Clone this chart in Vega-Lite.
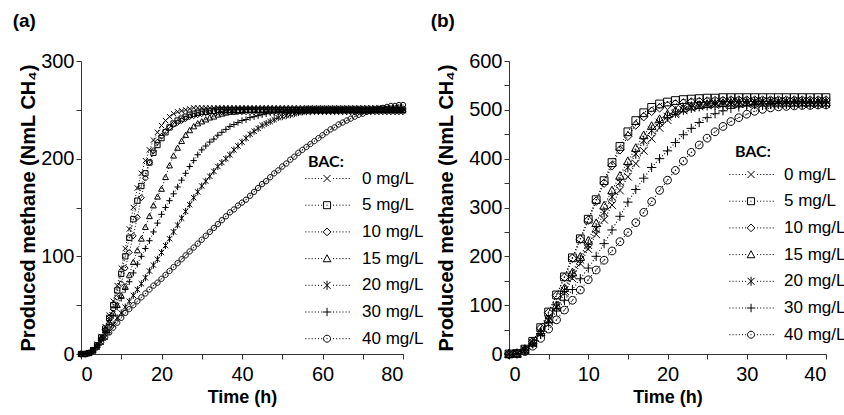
{
"$schema": "https://vega.github.io/schema/vega-lite/v6.json",
"padding": {"left": 12, "top": 12, "right": 0, "bottom": 2},
"bounds": "flush",
"config": {
  "view": {"stroke": null},
  "font": "Liberation Sans",
  "axis": {"domainColor": "#333", "tickColor": "#333", "labelColor": "#000", "titleColor": "#000", "labelFont": "Liberation Sans", "titleFont": "Liberation Sans", "labelFontSize": 20, "titleFontSize": 18, "titleFontWeight": "bold", "grid": false, "tickSize": 5},
  "title": {"anchor": "start", "frame": "bounds", "fontSize": 19, "fontWeight": "bold", "font": "Liberation Sans", "offset": 20, "dx": -6}
},
"datasets": {
"a": [
{"t":0,"0":0,"5":0,"10":0,"15":0,"20":0,"30":0,"40":0},
{"t":1,"0":0,"5":0,"10":0,"15":0,"20":0,"30":0,"40":0},
{"t":2,"0":1,"5":1,"10":1,"15":1,"20":1,"30":1,"40":1},
{"t":3,"0":4,"5":4,"10":4,"15":4,"20":3,"30":4,"40":3},
{"t":4,"0":10,"5":9,"10":9,"15":9,"20":7,"30":9,"40":7},
{"t":5,"0":18,"5":17,"10":16,"15":16,"20":12,"30":15,"40":12},
{"t":6,"0":28,"5":26,"10":25,"15":24,"20":17,"30":22,"40":17},
{"t":7,"0":40,"5":37,"10":35,"15":33,"20":23,"30":30,"40":22},
{"t":8,"0":54,"5":50,"10":46,"15":42,"20":30,"30":39,"40":27},
{"t":9,"0":70,"5":65,"10":58,"15":50,"20":37,"30":48,"40":32},
{"t":10,"0":88,"5":82,"10":72,"15":60,"20":42,"30":57,"40":37},
{"t":11,"0":108,"5":100,"10":88,"15":69,"20":48,"30":66,"40":42},
{"t":12,"0":128,"5":119,"10":104,"15":81,"20":54,"30":74,"40":46},
{"t":13,"0":150,"5":138,"10":121,"15":94,"20":60,"30":83,"40":50},
{"t":14,"0":170,"5":157,"10":140,"15":106,"20":66,"30":92,"40":54},
{"t":15,"0":185,"5":172,"10":160,"15":118,"20":72,"30":100,"40":58},
{"t":16,"0":198,"5":185,"10":180,"15":130,"20":78,"30":108,"40":62},
{"t":17,"0":209,"5":196,"10":196,"15":141,"20":85,"30":116,"40":66},
{"t":18,"0":219,"5":206,"10":208,"15":152,"20":91,"30":125,"40":70},
{"t":19,"0":227,"5":214,"10":217,"15":161,"20":97,"30":134,"40":73},
{"t":20,"0":234,"5":221,"10":223,"15":169,"20":104,"30":143,"40":77},
{"t":21,"0":239,"5":227,"10":228,"15":181,"20":111,"30":150,"40":81},
{"t":22,"0":243,"5":232,"10":232,"15":193,"20":118,"30":157,"40":85},
{"t":23,"0":246,"5":236,"10":235,"15":203,"20":125,"30":164,"40":89},
{"t":24,"0":248,"5":239,"10":237,"15":211,"20":132,"30":171,"40":93},
{"t":25,"0":249,"5":241,"10":239,"15":218,"20":139,"30":178,"40":97},
{"t":26,"0":250,"5":243,"10":241,"15":224,"20":146,"30":185,"40":101},
{"t":27,"0":251,"5":245,"10":243,"15":229,"20":153,"30":192,"40":105},
{"t":28,"0":252,"5":246,"10":244,"15":233,"20":160,"30":198,"40":109},
{"t":29,"0":252,"5":247,"10":245,"15":236,"20":166,"30":204,"40":113},
{"t":30,"0":252,"5":248,"10":246,"15":238,"20":172,"30":209,"40":117},
{"t":31,"0":252,"5":248,"10":247,"15":240,"20":177,"30":213,"40":121},
{"t":32,"0":252,"5":249,"10":247,"15":242,"20":182,"30":217,"40":125},
{"t":33,"0":252,"5":249,"10":248,"15":243,"20":187,"30":220,"40":129},
{"t":34,"0":252,"5":250,"10":248,"15":245,"20":192,"30":224,"40":133},
{"t":35,"0":252,"5":250,"10":248,"15":246,"20":196,"30":227,"40":137},
{"t":36,"0":252,"5":250,"10":248,"15":247,"20":200,"30":230,"40":141},
{"t":37,"0":252,"5":250,"10":248,"15":248,"20":204,"30":233,"40":145},
{"t":38,"0":252,"5":250,"10":248,"15":248,"20":209,"30":235,"40":148},
{"t":39,"0":252,"5":250,"10":248,"15":249,"20":213,"30":237,"40":152},
{"t":40,"0":252,"5":250,"10":248,"15":249,"20":217,"30":239,"40":155},
{"t":41,"0":252,"5":250,"10":248,"15":250,"20":221,"30":240,"40":158},
{"t":42,"0":252,"5":250,"10":248,"15":250,"20":225,"30":242,"40":162},
{"t":43,"0":252,"5":250,"10":248,"15":250,"20":228,"30":243,"40":166},
{"t":44,"0":252,"5":250,"10":248,"15":250,"20":231,"30":244,"40":170},
{"t":45,"0":252,"5":250,"10":248,"15":250,"20":234,"30":245,"40":174},
{"t":46,"0":252,"5":250,"10":248,"15":250,"20":236,"30":246,"40":177},
{"t":47,"0":252,"5":250,"10":248,"15":250,"20":238,"30":247,"40":181},
{"t":48,"0":252,"5":250,"10":248,"15":250,"20":240,"30":247,"40":185},
{"t":49,"0":252,"5":250,"10":248,"15":250,"20":242,"30":248,"40":188},
{"t":50,"0":252,"5":250,"10":248,"15":250,"20":243,"30":248,"40":192},
{"t":51,"0":252,"5":250,"10":248,"15":250,"20":244,"30":249,"40":195},
{"t":52,"0":252,"5":250,"10":248,"15":250,"20":245,"30":249,"40":199},
{"t":53,"0":252,"5":250,"10":248,"15":250,"20":246,"30":250,"40":202},
{"t":54,"0":252,"5":250,"10":248,"15":250,"20":247,"30":250,"40":206},
{"t":55,"0":252,"5":250,"10":248,"15":250,"20":248,"30":250,"40":209},
{"t":56,"0":252,"5":250,"10":248,"15":250,"20":248,"30":251,"40":212},
{"t":57,"0":252,"5":250,"10":248,"15":250,"20":249,"30":251,"40":215},
{"t":58,"0":252,"5":250,"10":248,"15":250,"20":249,"30":251,"40":218},
{"t":59,"0":252,"5":250,"10":248,"15":250,"20":249,"30":251,"40":221},
{"t":60,"0":252,"5":250,"10":248,"15":250,"20":249,"30":251,"40":224},
{"t":61,"0":252,"5":250,"10":248,"15":250,"20":249,"30":251,"40":227},
{"t":62,"0":252,"5":250,"10":248,"15":250,"20":249,"30":251,"40":230},
{"t":63,"0":252,"5":250,"10":248,"15":250,"20":249,"30":251,"40":232},
{"t":64,"0":252,"5":250,"10":248,"15":250,"20":249,"30":251,"40":235},
{"t":65,"0":252,"5":250,"10":248,"15":250,"20":249,"30":251,"40":237},
{"t":66,"0":252,"5":250,"10":248,"15":250,"20":249,"30":251,"40":239},
{"t":67,"0":252,"5":250,"10":248,"15":250,"20":249,"30":251,"40":241},
{"t":68,"0":252,"5":250,"10":248,"15":250,"20":249,"30":251,"40":243},
{"t":69,"0":252,"5":250,"10":248,"15":250,"20":249,"30":251,"40":245},
{"t":70,"0":252,"5":250,"10":248,"15":250,"20":249,"30":251,"40":246},
{"t":71,"0":252,"5":250,"10":248,"15":250,"20":249,"30":251,"40":248},
{"t":72,"0":252,"5":250,"10":248,"15":250,"20":249,"30":251,"40":249},
{"t":73,"0":252,"5":250,"10":248,"15":250,"20":249,"30":251,"40":250},
{"t":74,"0":252,"5":250,"10":248,"15":250,"20":249,"30":251,"40":251},
{"t":75,"0":252,"5":250,"10":248,"15":250,"20":249,"30":251,"40":252},
{"t":76,"0":252,"5":250,"10":248,"15":250,"20":249,"30":251,"40":253},
{"t":77,"0":252,"5":250,"10":248,"15":250,"20":249,"30":251,"40":254},
{"t":78,"0":252,"5":250,"10":248,"15":250,"20":249,"30":251,"40":254},
{"t":79,"0":252,"5":250,"10":248,"15":250,"20":249,"30":251,"40":255},
{"t":80,"0":252,"5":250,"10":248,"15":250,"20":249,"30":251,"40":255}
],
"b": [
{"t":0,"0":0,"5":0,"10":0,"15":0,"20":0,"30":0,"40":0},
{"t":1,"0":1,"5":1,"10":1,"15":1,"20":1,"30":1,"40":1},
{"t":2,"0":8,"5":10,"10":10,"15":9,"20":9,"30":8,"40":5},
{"t":3,"0":22,"5":26,"10":26,"15":23,"20":22,"30":21,"40":16},
{"t":4,"0":43,"5":54,"10":53,"15":45,"20":44,"30":42,"40":32},
{"t":5,"0":68,"5":86,"10":85,"15":72,"20":70,"30":64,"40":51},
{"t":6,"0":95,"5":121,"10":120,"15":100,"20":98,"30":88,"40":70},
{"t":7,"0":125,"5":158,"10":157,"15":135,"20":130,"30":110,"40":90},
{"t":8,"0":155,"5":197,"10":196,"15":167,"20":162,"30":132,"40":110},
{"t":9,"0":185,"5":236,"10":235,"15":199,"20":193,"30":154,"40":131},
{"t":10,"0":215,"5":276,"10":274,"15":232,"20":223,"30":176,"40":152},
{"t":11,"0":245,"5":316,"10":313,"15":268,"20":256,"30":200,"40":172},
{"t":12,"0":275,"5":355,"10":350,"15":304,"20":290,"30":226,"40":192},
{"t":13,"0":305,"5":392,"10":386,"15":335,"20":322,"30":254,"40":211},
{"t":14,"0":335,"5":425,"10":418,"15":365,"20":352,"30":282,"40":230},
{"t":15,"0":363,"5":455,"10":446,"15":395,"20":382,"30":311,"40":249},
{"t":16,"0":390,"5":478,"10":469,"15":422,"20":410,"30":337,"40":269},
{"t":17,"0":416,"5":494,"10":486,"15":448,"20":437,"30":360,"40":290},
{"t":18,"0":441,"5":505,"10":497,"15":467,"20":458,"30":382,"40":312},
{"t":19,"0":463,"5":512,"10":504,"15":481,"20":474,"30":400,"40":335},
{"t":20,"0":479,"5":516,"10":509,"15":491,"20":486,"30":416,"40":356},
{"t":21,"0":491,"5":519,"10":512,"15":498,"20":494,"30":433,"40":376},
{"t":22,"0":499,"5":521,"10":514,"15":503,"20":500,"30":449,"40":395},
{"t":23,"0":505,"5":522,"10":516,"15":507,"20":504,"30":462,"40":413},
{"t":24,"0":509,"5":523,"10":517,"15":510,"20":507,"30":474,"40":428},
{"t":25,"0":512,"5":524,"10":518,"15":512,"20":509,"30":484,"40":442},
{"t":26,"0":514,"5":524,"10":519,"15":513,"20":510,"30":492,"40":455},
{"t":27,"0":515,"5":525,"10":519,"15":514,"20":511,"30":498,"40":466},
{"t":28,"0":516,"5":525,"10":520,"15":515,"20":512,"30":503,"40":476},
{"t":29,"0":517,"5":525,"10":520,"15":515,"20":512,"30":506,"40":484},
{"t":30,"0":517,"5":525,"10":520,"15":515,"20":512,"30":509,"40":491},
{"t":31,"0":517,"5":525,"10":520,"15":515,"20":512,"30":511,"40":497},
{"t":32,"0":518,"5":525,"10":520,"15":515,"20":512,"30":512,"40":501},
{"t":33,"0":518,"5":525,"10":520,"15":515,"20":512,"30":513,"40":504},
{"t":34,"0":518,"5":525,"10":520,"15":515,"20":512,"30":514,"40":506},
{"t":35,"0":518,"5":525,"10":520,"15":515,"20":512,"30":514,"40":507},
{"t":36,"0":518,"5":525,"10":520,"15":515,"20":512,"30":514,"40":508},
{"t":37,"0":518,"5":525,"10":520,"15":515,"20":512,"30":514,"40":509},
{"t":38,"0":518,"5":525,"10":520,"15":515,"20":512,"30":514,"40":509},
{"t":39,"0":518,"5":525,"10":520,"15":515,"20":512,"30":514,"40":510},
{"t":40,"0":518,"5":525,"10":520,"15":515,"20":512,"30":514,"40":510}
]
},
"spacing": 106,
"resolve": {"scale": {"shape": "independent", "opacity": "independent", "x": "independent", "y": "independent"}, "legend": {"opacity": "independent"}},
"hconcat": [
{
  "title": {"text": "(a)"},
  "width": 322, "height": 293,
  "data": {"name": "a"},
  "transform": [{"fold": ["0","5","10","15","20","30","40"], "as": ["BAC","v"]}],
  "encoding": {
    "x": {"field": "t", "type": "quantitative", "scale": {"domain": [0,80], "nice": false},
          "axis": {"title": "Time (h)", "values": [0,10,20,30,40,50,60,70,80], "labelExpr": "datum.value % 20 == 0 ? datum.label : ''", "labelPadding": 5, "titlePadding": 4}},
    "y": {"field": "v", "type": "quantitative", "scale": {"domain": [0,300], "nice": false},
          "axis": {"title": "Produced methane (NmL CH₄)", "titleFontSize": 20, "values": [0,50,100,150,200,250,300], "labelExpr": "datum.value % 100 == 0 ? datum.label : ''", "labelPadding": 2, "titlePadding": 2}}
  },
  "layer": [
    {"mark": {"type": "line", "strokeDash": [1,2], "color": "black", "strokeWidth": 1}, "encoding": {"detail": {"field": "BAC"}}},
    {"mark": {"type": "point", "filled": false, "color": "black", "strokeWidth": 1, "size": 28},
     "encoding": {
       "shape": {"field": "BAC", "type": "nominal", "legend": null,
         "scale": {"range": ["M-1,-1L1,1M-1,1L1,-1","M0,-1.1L1.1,0L0,1.1L-1.1,0Z","M0,-1.1L1.1,0.9H-1.1Z","M-1,-1L1,1M-1,1L1,-1M0,-1.3V1.3","M-1.2,0H1.2M0,-1.2V1.2","M-1,0A1,1 0 1,0 1,0A1,1 0 1,0 -1,0ZM-0.15,0H0.15","M-1,-1H1V1H-1ZM-0.15,0H0.15"]}},
       "opacity": {"field": "BAC", "type": "ordinal",
         "scale": {"domain": ["0","5","10","15","20","30","40"], "range": [1,1,1,1,1,1,1]},
         "legend": {"title": "BAC:", "orient": "none", "legendX": 219, "legendY": 93, "titleFont": "Lato", "titleFontSize": 16, "titleFontWeight": "bold", "titleColor": "#000", "titlePadding": 0,
           "labelFont": "Liberation Sans", "labelFontSize": 17, "labelColor": "#000", "labelOffset": 45, "rowPadding": 8.7,
           "symbolSize": 49, "symbolStrokeColor": "black", "symbolFillColor": "transparent", "symbolStrokeWidth": 1, "symbolOpacity": 1,
           "labelExpr": "datum.label + ' mg/L'",
           "encoding": {"title": {"dx": {"value": 8}}, "symbols": {"shape": {"value": {"expr": "['M-0.9,0h0.3M0,0h0.3M0.9,0h0.3M1.8,0h0.3M2.7,0h0.3M3.6,0h0.3M7,0h0.3M7.9,0h0.3M8.8,0h0.3M9.7,0h0.3M10.6,0h0.3M11.5,0h0.3M4.3,-1L6.3,1M4.3,1L6.3,-1','M-0.9,0h0.3M0,0h0.3M0.9,0h0.3M1.8,0h0.3M2.7,0h0.3M3.6,0h0.3M7,0h0.3M7.9,0h0.3M8.8,0h0.3M9.7,0h0.3M10.6,0h0.3M11.5,0h0.3M4.3,-1H6.3V1H4.3ZM5.15,0H5.45','M-0.9,0h0.3M0,0h0.3M0.9,0h0.3M1.8,0h0.3M2.7,0h0.3M3.6,0h0.3M7,0h0.3M7.9,0h0.3M8.8,0h0.3M9.7,0h0.3M10.6,0h0.3M11.5,0h0.3M5.3,-1.1L6.4,0L5.3,1.1L4.2,0Z','M-0.9,0h0.3M0,0h0.3M0.9,0h0.3M1.8,0h0.3M2.7,0h0.3M3.6,0h0.3M7,0h0.3M7.9,0h0.3M8.8,0h0.3M9.7,0h0.3M10.6,0h0.3M11.5,0h0.3M5.3,-1.1L6.4,0.9H4.2Z','M-0.9,0h0.3M0,0h0.3M0.9,0h0.3M1.8,0h0.3M2.7,0h0.3M3.6,0h0.3M7,0h0.3M7.9,0h0.3M8.8,0h0.3M9.7,0h0.3M10.6,0h0.3M11.5,0h0.3M4.3,-1L6.3,1M4.3,1L6.3,-1M5.3,-1.3V1.3','M-0.9,0h0.3M0,0h0.3M0.9,0h0.3M1.8,0h0.3M2.7,0h0.3M3.6,0h0.3M7,0h0.3M7.9,0h0.3M8.8,0h0.3M9.7,0h0.3M10.6,0h0.3M11.5,0h0.3M4.1,0H6.5M5.3,-1.2V1.2','M-0.9,0h0.3M0,0h0.3M0.9,0h0.3M1.8,0h0.3M2.7,0h0.3M3.6,0h0.3M7,0h0.3M7.9,0h0.3M8.8,0h0.3M9.7,0h0.3M10.6,0h0.3M11.5,0h0.3M4.3,0A1,1 0 1,0 6.3,0A1,1 0 1,0 4.3,0ZM5.15,0H5.45'][indexof(['0','5','10','15','20','30','40'], datum.value)]"}}}}}}
     }
    }
  ]
},
{
  "title": {"text": "(b)"},
  "width": 317, "height": 293,
  "data": {"name": "b"},
  "transform": [{"fold": ["0","5","10","15","20","30","40"], "as": ["BAC","v"]}],
  "encoding": {
    "x": {"field": "t", "type": "quantitative", "scale": {"domain": [0,40], "nice": false},
          "axis": {"title": "Time (h)", "values": [0,5,10,15,20,25,30,35,40], "labelExpr": "datum.value % 10 == 0 ? datum.label : ''", "labelPadding": 5, "titlePadding": 4}},
    "y": {"field": "v", "type": "quantitative", "scale": {"domain": [0,600], "nice": false},
          "axis": {"title": "Produced methane (NmL CH₄)", "titleFontSize": 20, "values": [0,50,100,150,200,250,300,350,400,450,500,550,600], "labelExpr": "datum.value % 100 == 0 ? datum.label : ''", "labelPadding": 2, "titlePadding": 12}}
  },
  "layer": [
    {"mark": {"type": "line", "strokeDash": [1,2], "color": "black", "strokeWidth": 1.1}, "encoding": {"detail": {"field": "BAC"}}},
    {"mark": {"type": "point", "filled": false, "color": "black", "strokeWidth": 1, "size": 60},
     "encoding": {
       "shape": {"field": "BAC", "type": "nominal", "legend": null,
         "scale": {"range": ["M-1,-1L1,1M-1,1L1,-1","M0,-1.1L1.1,0L0,1.1L-1.1,0Z","M0,-1.1L1.1,0.9H-1.1Z","M-1,-1L1,1M-1,1L1,-1M0,-1.3V1.3","M-1.2,0H1.2M0,-1.2V1.2","M-1,0A1,1 0 1,0 1,0A1,1 0 1,0 -1,0ZM-0.15,0H0.15","M-1,-1H1V1H-1ZM-0.15,0H0.15"]}},
       "opacity": {"field": "BAC", "type": "ordinal",
         "scale": {"domain": ["0","5","10","15","20","30","40"], "range": [1,1,1,1,1,1,1]},
         "legend": {"title": "BAC:", "orient": "none", "legendX": 215, "legendY": 83, "titleFont": "Lato", "titleFontSize": 16, "titleFontWeight": "bold", "titleColor": "#000", "titlePadding": 6,
           "labelFont": "Liberation Sans", "labelFontSize": 17, "labelColor": "#000", "labelOffset": 43, "rowPadding": 8.7,
           "symbolSize": 49, "symbolStrokeColor": "black", "symbolFillColor": "transparent", "symbolStrokeWidth": 1, "symbolOpacity": 1,
           "labelExpr": "datum.label + ' mg/L'",
           "encoding": {"title": {"dx": {"value": 11}}, "symbols": {"shape": {"value": {"expr": "['M-0.9,0h0.3M0,0h0.3M0.9,0h0.3M1.8,0h0.3M2.7,0h0.3M3.6,0h0.3M7,0h0.3M7.9,0h0.3M8.8,0h0.3M9.7,0h0.3M10.6,0h0.3M11.5,0h0.3M4.3,-1L6.3,1M4.3,1L6.3,-1','M-0.9,0h0.3M0,0h0.3M0.9,0h0.3M1.8,0h0.3M2.7,0h0.3M3.6,0h0.3M7,0h0.3M7.9,0h0.3M8.8,0h0.3M9.7,0h0.3M10.6,0h0.3M11.5,0h0.3M4.3,-1H6.3V1H4.3ZM5.15,0H5.45','M-0.9,0h0.3M0,0h0.3M0.9,0h0.3M1.8,0h0.3M2.7,0h0.3M3.6,0h0.3M7,0h0.3M7.9,0h0.3M8.8,0h0.3M9.7,0h0.3M10.6,0h0.3M11.5,0h0.3M5.3,-1.1L6.4,0L5.3,1.1L4.2,0Z','M-0.9,0h0.3M0,0h0.3M0.9,0h0.3M1.8,0h0.3M2.7,0h0.3M3.6,0h0.3M7,0h0.3M7.9,0h0.3M8.8,0h0.3M9.7,0h0.3M10.6,0h0.3M11.5,0h0.3M5.3,-1.1L6.4,0.9H4.2Z','M-0.9,0h0.3M0,0h0.3M0.9,0h0.3M1.8,0h0.3M2.7,0h0.3M3.6,0h0.3M7,0h0.3M7.9,0h0.3M8.8,0h0.3M9.7,0h0.3M10.6,0h0.3M11.5,0h0.3M4.3,-1L6.3,1M4.3,1L6.3,-1M5.3,-1.3V1.3','M-0.9,0h0.3M0,0h0.3M0.9,0h0.3M1.8,0h0.3M2.7,0h0.3M3.6,0h0.3M7,0h0.3M7.9,0h0.3M8.8,0h0.3M9.7,0h0.3M10.6,0h0.3M11.5,0h0.3M4.1,0H6.5M5.3,-1.2V1.2','M-0.9,0h0.3M0,0h0.3M0.9,0h0.3M1.8,0h0.3M2.7,0h0.3M3.6,0h0.3M7,0h0.3M7.9,0h0.3M8.8,0h0.3M9.7,0h0.3M10.6,0h0.3M11.5,0h0.3M4.3,0A1,1 0 1,0 6.3,0A1,1 0 1,0 4.3,0ZM5.15,0H5.45'][indexof(['0','5','10','15','20','30','40'], datum.value)]"}}}}}}
     }
    }
  ]
}
]
}
